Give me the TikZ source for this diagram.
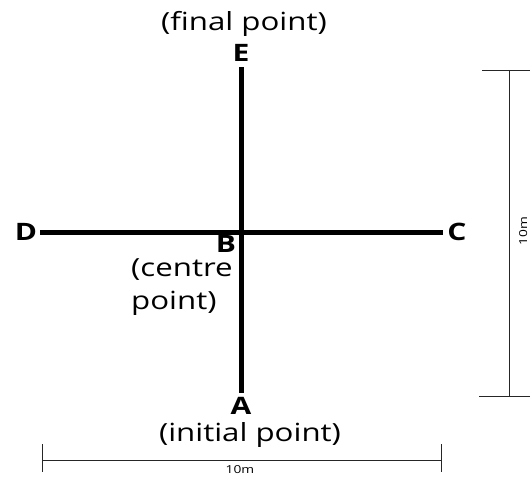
\documentclass[tikz,border=0pt]{standalone}
\usepackage{fontspec}
\newfontfamily\walkfont[FakeStretch=1.25]{Open Sans}
\usetikzlibrary{positioning}

\begin{document}
\begin{tikzpicture}[x=1pt, y=-1pt,
    every node/.style={inner sep=0pt, font=\walkfont\fontsize{25}{28}\selectfont},
    pointlabel/.style={font=\walkfont\fontsize{24}{27}\selectfont\bfseries},
    pathline/.style={line width=5pt},
    dimline/.style={line width=0.9pt, draw=black!85},
    dimtext/.style={font=\walkfont\fontsize{11}{12}\selectfont}
]
\useasboundingbox (0,0) rectangle (530,477);

% Walk path
\coordinate (E) at (241,67);
\coordinate (A) at (241,393);
\coordinate (D) at (40,232);
\coordinate (C) at (443,232);
\coordinate (B) at (241,232);
\draw[pathline] (D) -- (C);
\draw[pathline] (E) -- (A);

% Point labels
\node[pointlabel] (lblE) at (241,53) {E};
\node (finalpt) at (244,24) {(final point)};
\node[pointlabel] (lblA) at (241,406) {A};
\node (initialpt) at (250,435) {(initial point)};
\node[pointlabel] (lblD) at (26,232) {D};
\node[pointlabel] (lblC) at (457,232) {C};
\node[pointlabel] (lblB) at (226,244) {B};
\node[anchor=west] (centre) at (131,270) {(centre};
\node[anchor=west] (centrept) at (131,303) {point)};

% Bottom dimension
\coordinate (dimL) at (42,460);
\coordinate (dimR) at (441,460);
\draw[dimline] (dimL) -- (dimR);
\foreach \x in {42,441} {
    \draw[dimline] (\x,444) -- (\x,472);
}
\node[dimtext] (dimbottom) at (240,470) {10m};

% Right dimension
\coordinate (dimT) at (509,70);
\coordinate (dimB) at (509,396);
\draw[dimline] (dimT) -- (dimB);
\draw[dimline] (482,70) -- (530,70);
\draw[dimline] (479,396) -- (530,396);
\node[dimtext, rotate=90, anchor=north] (dimright) at (519,231) {10m};

\end{tikzpicture}
\end{document}
